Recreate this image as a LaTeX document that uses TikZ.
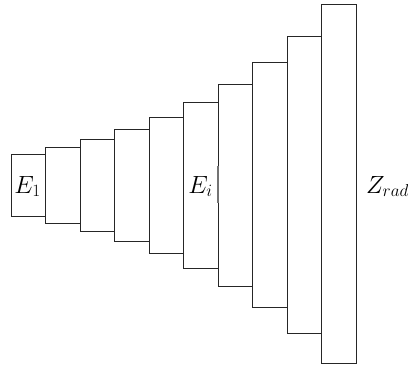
\documentclass[tikz,border=0pt]{standalone}
\begin{document}
\begin{tikzpicture}[x=1pt,y=-1pt,
  seg/.style={draw=black!85,line width=0.8pt},
  lbl/.style={font=\fontsize{25}{30}\selectfont,inner sep=0pt,anchor=base}]
\useasboundingbox (0,0) rectangle (408,367);
\foreach \i/\t/\b in {0/154/216.7,1/147.3/223,2/139/231,3/129.2/241.7,4/117/253.3,5/102.3/268.3,6/84.3/286.7,7/62.7/307.3,8/36/333.3,9/4.7/363.3}{
  \draw[seg] ({11.3+34.5*\i},\t) rectangle ({11.3+34.5*(\i+1)},\b);
}
\draw[black!55,line width=2pt] (218,166) -- (218,203);
\node[lbl] (e1) at (27.5,193) {$E_1$};
\node[lbl] (ei) at (200.5,193) {$E_i$};
\node[lbl] (zr) at (387.5,193) {$Z_{rad}$};
\end{tikzpicture}
\end{document}
